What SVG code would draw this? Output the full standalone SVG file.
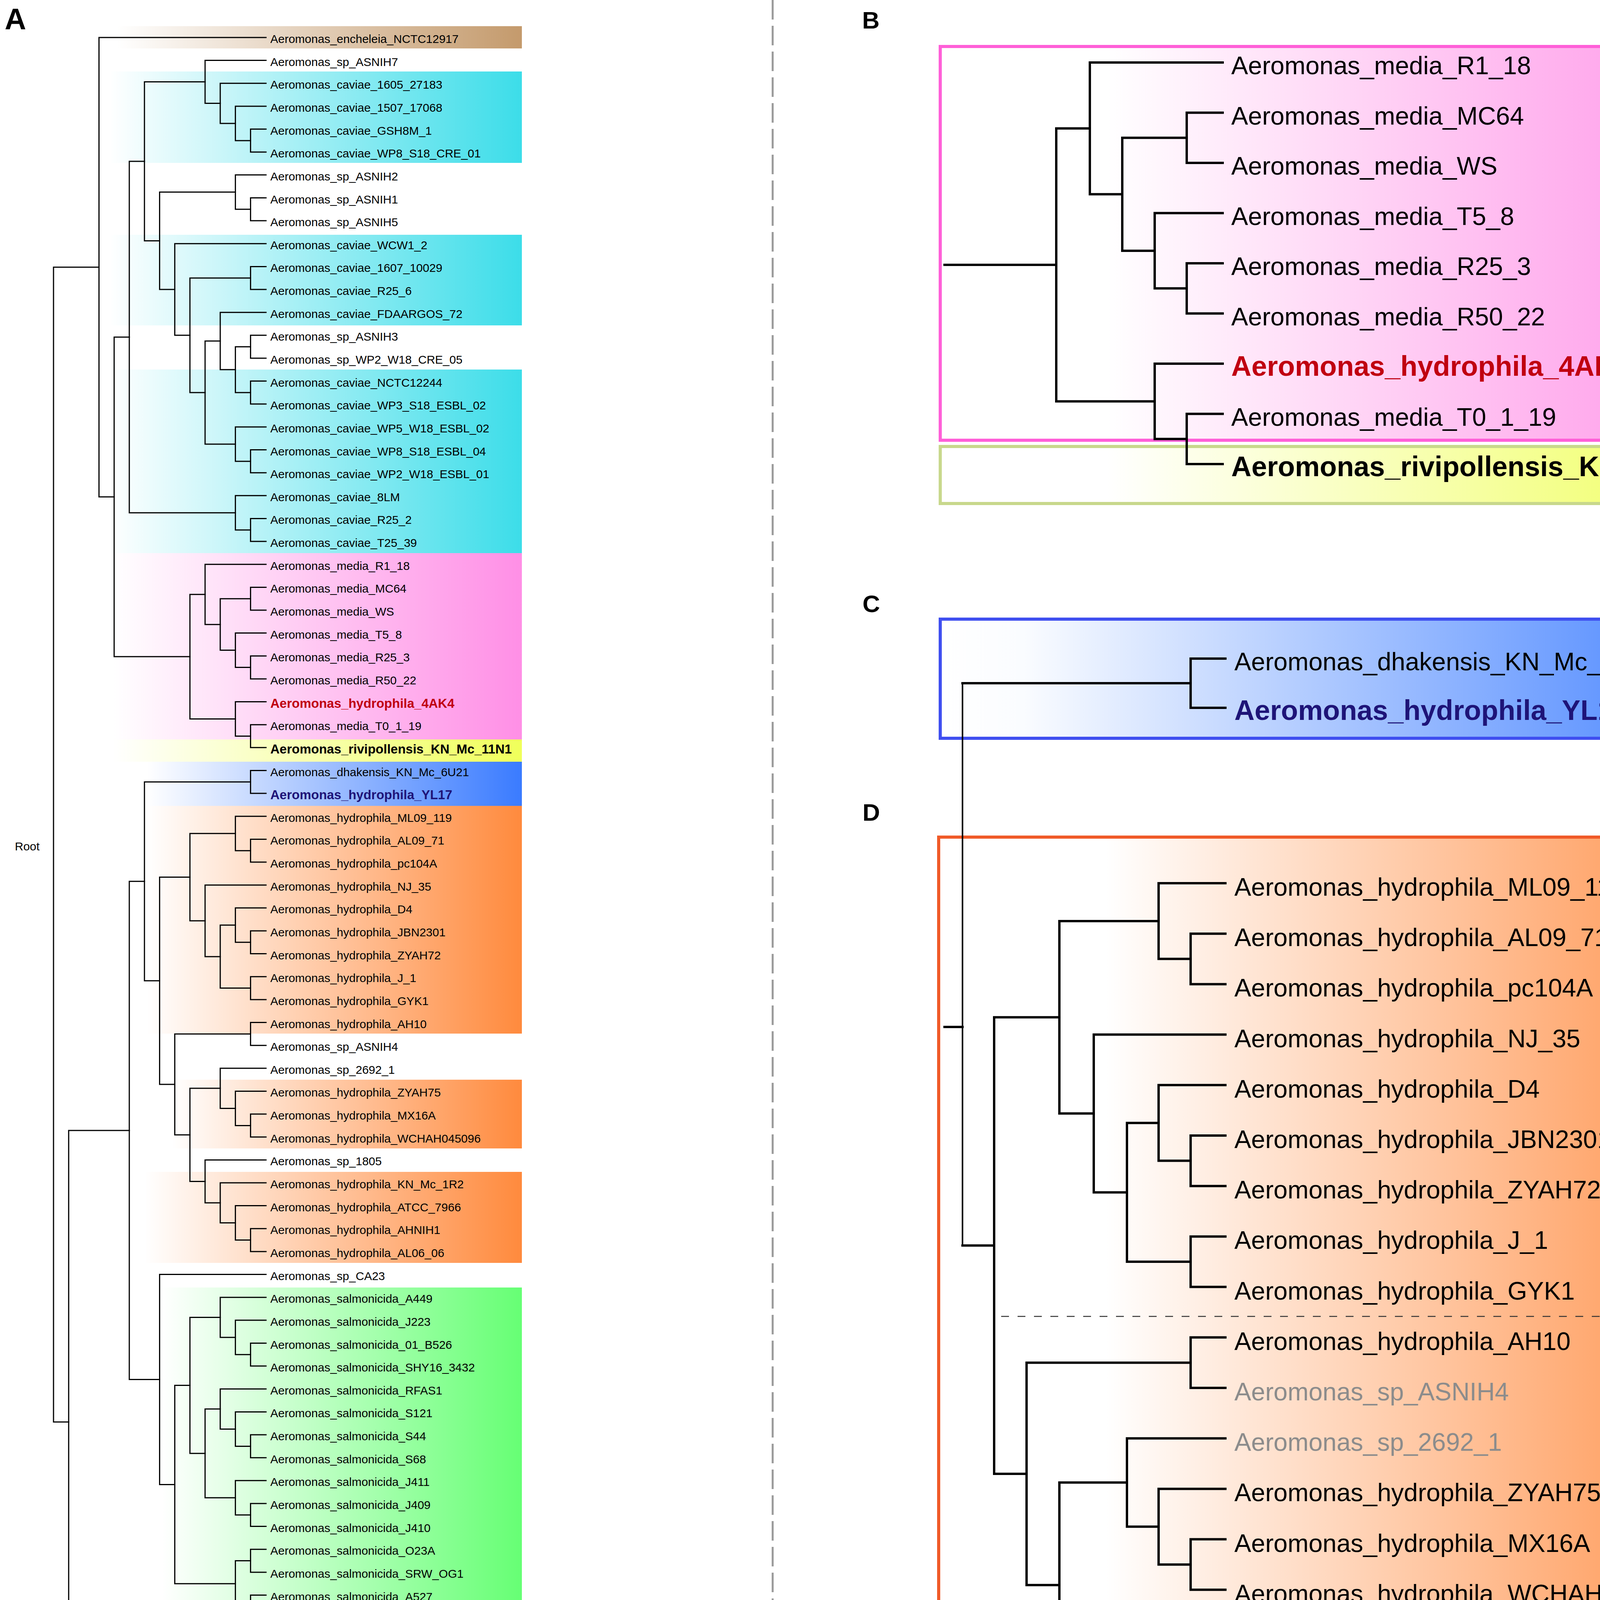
<svg xmlns="http://www.w3.org/2000/svg" width="4550" height="5767" viewBox="0 0 4550 5767">
<defs>
<style>
.a{font-family:"Liberation Sans",Arial,sans-serif;font-size:30px;fill:#000}
.ab{font-family:"Liberation Sans",Arial,sans-serif;font-size:33px;font-weight:bold}
.b{font-family:"Liberation Sans",Arial,sans-serif;font-size:64.5px;fill:#000}
.bb{font-family:"Liberation Sans",Arial,sans-serif;font-size:71.5px;font-weight:bold}
.lg{font-family:"Open Sans","DejaVu Sans",sans-serif;font-size:58px;fill:#111}
.gr{font-family:"Open Sans","DejaVu Sans",sans-serif;font-size:42px;fill:#111}
.pl{font-family:"Liberation Sans",Arial,sans-serif;font-weight:bold;fill:#000}
.grey{fill:#8c8c8c}
.ta{fill:none;stroke:#000;stroke-width:3;stroke-linecap:square;stroke-linejoin:miter}
.tb{fill:none;stroke:#000;stroke-width:6;stroke-linecap:square;stroke-linejoin:miter}
</style>
<linearGradient id="gEnc"><stop offset="0" stop-color="#fff"/><stop offset="1" stop-color="#c49a6c"/></linearGradient>
<linearGradient id="gCav"><stop offset="0" stop-color="#fff"/><stop offset="1" stop-color="#3cdde9"/></linearGradient>
<linearGradient id="gMed"><stop offset="0" stop-color="#fff"/><stop offset="1" stop-color="#ff8fe6"/></linearGradient>
<linearGradient id="gRiv"><stop offset="0" stop-color="#fff"/><stop offset="1" stop-color="#f0ff5a"/></linearGradient>
<linearGradient id="gDha"><stop offset="0" stop-color="#fff"/><stop offset="1" stop-color="#3a7bff"/></linearGradient>
<linearGradient id="gHyd"><stop offset="0" stop-color="#fff"/><stop offset="1" stop-color="#ff8a3d"/></linearGradient>
<linearGradient id="gSal"><stop offset="0" stop-color="#fff"/><stop offset="1" stop-color="#66ff74"/></linearGradient>
<linearGradient id="gSch"><stop offset="0" stop-color="#fff"/><stop offset="1" stop-color="#9d5cff"/></linearGradient>
<linearGradient id="gJan"><stop offset="0" stop-color="#fff"/><stop offset="1" stop-color="#a0006e"/></linearGradient>
<linearGradient id="gVer"><stop offset="0" stop-color="#fff"/><stop offset="1" stop-color="#008c2c"/></linearGradient>
<linearGradient id="bMed"><stop offset="0" stop-color="#fff"/><stop offset="0.2" stop-color="#fff"/><stop offset="1" stop-color="#ff8de6"/></linearGradient>
<linearGradient id="bRiv"><stop offset="0" stop-color="#fff"/><stop offset="0.2" stop-color="#fff"/><stop offset="1" stop-color="#efff55"/></linearGradient>
<linearGradient id="bDha"><stop offset="0" stop-color="#fff"/><stop offset="0.1" stop-color="#fafcff"/><stop offset="1" stop-color="#3a7bff"/></linearGradient>
<linearGradient id="bHyd"><stop offset="0" stop-color="#fff"/><stop offset="0.2" stop-color="#fff"/><stop offset="1" stop-color="#ff8a3e"/></linearGradient>
</defs>
<rect x="0" y="0" width="4550" height="5767" fill="#fff"/>

<g id="panelA-bands">
<rect x="300" y="67" width="1036" height="57" fill="url(#gEnc)"/>
<rect x="280" y="183" width="1056" height="234" fill="url(#gCav)"/>
<rect x="280" y="601" width="1056" height="232" fill="url(#gCav)"/>
<rect x="280" y="946" width="1056" height="470" fill="url(#gCav)"/>
<rect x="290" y="1416" width="1046" height="477" fill="url(#gMed)"/>
<rect x="290" y="1893" width="1046" height="57" fill="url(#gRiv)"/>
<rect x="376" y="1950" width="960" height="113" fill="url(#gDha)"/>
<rect x="376" y="2063" width="960" height="583" fill="url(#gHyd)"/>
<rect x="440" y="2764" width="896" height="176" fill="url(#gHyd)"/>
<rect x="370" y="3000" width="966" height="233" fill="url(#gHyd)"/>
<rect x="415" y="3296" width="921" height="882" fill="url(#gSal)"/>
<rect x="368" y="4178" width="968" height="110" fill="url(#gSch)"/>
<rect x="368" y="4288" width="968" height="70" fill="url(#gVer)"/>
<rect x="368" y="4358" width="968" height="106" fill="url(#gJan)"/>
<rect x="368" y="4530" width="968" height="1170" fill="url(#gVer)"/>
</g>

<g id="panel-boxes">
<rect x="2407" y="119" width="2136" height="1008" fill="url(#bMed)" stroke="#ff5fd8" stroke-width="8"/>
<rect x="2407" y="1143" width="2136" height="146" fill="url(#bRiv)" stroke="#c8d88c" stroke-width="8"/>
<rect x="2407" y="1585" width="2136" height="305" fill="url(#bDha)" stroke="#3f4ff0" stroke-width="8"/>
<rect x="2403" y="2143" width="2140" height="2673" fill="url(#bHyd)" stroke="#f05a28" stroke-width="8"/>
</g>

<g id="separator">
<line x1="1978" y1="0" x2="1978" y2="5767" stroke="#999" stroke-width="5" stroke-dasharray="50 16"/>
<line x1="2563" y1="3370" x2="4545" y2="3370" stroke="#333" stroke-width="2.5" stroke-dasharray="20 22"/>
</g>

<g id="connectors">
<g id="connectors-A" class="ta">
<path d="M253.4 684H137V3640.3H175.8"/>
<path d="M681 96H253.4V1272H292.2"/>
<path d="M331 862.9H292.2V1681.1H486.2"/>
<path d="M369.8 413H331V1312.8H602.6"/>
<path d="M525 209.6H369.8V616.4H408.6"/>
<path d="M681 154.6H525V264.6H563.8"/>
<path d="M681 213.3H563.8V315.9H602.6"/>
<path d="M681 271.9H602.6V359.9H641.4"/>
<path d="M681 330.6H641.4V389.2H681"/>
<path d="M602.6 491.8H408.6V741H447.4"/>
<path d="M681 447.8H602.6V535.8H641.4"/>
<path d="M681 506.5H641.4V565.1H681"/>
<path d="M681 623.8H447.4V858.3H486.2"/>
<path d="M641.4 711.7H486.2V1005H525"/>
<path d="M681 682.4H641.4V741H681"/>
<path d="M563.8 873H525V1136.9H602.6"/>
<path d="M681 799.7H563.8V946.3H602.6"/>
<path d="M641.4 887.7H602.6V1004.9H641.4"/>
<path d="M681 858.3H641.4V917H681"/>
<path d="M681 975.6H641.4V1034.2H681"/>
<path d="M681 1092.9H602.6V1180.9H641.4"/>
<path d="M681 1151.5H641.4V1210.2H681"/>
<path d="M681 1268.8H602.6V1356.8H641.4"/>
<path d="M681 1327.4H641.4V1386.1H681"/>
<path d="M525 1521.7H486.2V1840.6H602.6"/>
<path d="M681 1444.7H525V1598.7H563.8"/>
<path d="M641.4 1532.7H563.8V1664.6H602.6"/>
<path d="M681 1503.4H641.4V1562H681"/>
<path d="M681 1620.6H602.6V1708.6H641.4"/>
<path d="M681 1679.3H641.4V1737.9H681"/>
<path d="M681 1796.6H602.6V1884.5H641.4"/>
<path d="M681 1855.2H641.4V1913.8H681"/>
<path d="M331 2893.9H175.8V4386.7H214.6"/>
<path d="M369.8 2256.3H331V3531.5H408.6"/>
<path d="M641.4 2001.8H369.8V2510.8H408.6"/>
<path d="M681 1972.5H641.4V2031.1H681"/>
<path d="M486.2 2245.5H408.6V2776H447.4"/>
<path d="M602.6 2133.8H486.2V2357.3H525"/>
<path d="M681 2089.8H602.6V2177.7H641.4"/>
<path d="M681 2148.4H641.4V2207H681"/>
<path d="M681 2265.7H525V2448.9H563.8"/>
<path d="M602.6 2368.3H563.8V2529.6H641.4"/>
<path d="M681 2324.3H602.6V2412.3H641.4"/>
<path d="M681 2383H641.4V2441.6H681"/>
<path d="M681 2500.2H641.4V2558.9H681"/>
<path d="M641.4 2646.9H447.4V2905.2H486.2"/>
<path d="M681 2617.5H641.4V2676.2H681"/>
<path d="M563.8 2786.1H486.2V3024.4H525"/>
<path d="M681 2734.8H563.8V2837.4H602.6"/>
<path d="M681 2793.4H602.6V2881.4H641.4"/>
<path d="M681 2852.1H641.4V2910.7H681"/>
<path d="M681 2969.4H525V3079.3H563.8"/>
<path d="M681 3028H563.8V3130.6H602.6"/>
<path d="M681 3086.6H602.6V3174.6H641.4"/>
<path d="M681 3145.3H641.4V3203.9H681"/>
<path d="M681 3262.6H408.6V3800.4H447.4"/>
<path d="M486.2 3546.6H447.4V4054.2H602.6"/>
<path d="M563.8 3372.5H486.2V3720.7H525"/>
<path d="M681 3321.2H563.8V3423.8H602.6"/>
<path d="M681 3379.8H602.6V3467.8H641.4"/>
<path d="M681 3438.5H641.4V3497.1H681"/>
<path d="M563.8 3607.1H525V3834.3H602.6"/>
<path d="M681 3555.8H563.8V3658.4H602.6"/>
<path d="M681 3614.4H602.6V3702.4H641.4"/>
<path d="M681 3673H641.4V3731.7H681"/>
<path d="M681 3790.3H602.6V3878.3H641.4"/>
<path d="M681 3849H641.4V3907.6H681"/>
<path d="M641.4 3995.6H602.6V4112.9H641.4"/>
<path d="M681 3966.2H641.4V4024.9H681"/>
<path d="M681 4083.5H641.4V4142.2H681"/>
<path d="M641.4 4230.1H214.6V4543.4H253.4"/>
<path d="M681 4200.8H641.4V4259.4H681"/>
<path d="M602.6 4362.1H253.4V4724.6H292.2"/>
<path d="M681 4318.1H602.6V4406.1H641.4"/>
<path d="M681 4376.7H641.4V4435.4H681"/>
<path d="M563.8 4545.3H292.2V4903.9H331"/>
<path d="M681 4494H563.8V4596.6H602.6"/>
<path d="M681 4552.6H602.6V4640.6H641.4"/>
<path d="M681 4611.3H641.4V4669.9H681"/>
<path d="M681 4728.6H331V5079.3H369.8"/>
<path d="M681 4787.2H369.8V5371.3H408.6"/>
<path d="M447.4 5200.4H408.6V5542.2H563.8"/>
<path d="M486.2 5041.9H447.4V5359H602.6"/>
<path d="M525 4900.8H486.2V5183H602.6"/>
<path d="M681 4845.8H525V4955.8H563.8"/>
<path d="M681 4904.5H563.8V5007.1H602.6"/>
<path d="M681 4963.1H602.6V5051.1H641.4"/>
<path d="M681 5021.8H641.4V5080.4H681"/>
<path d="M681 5139H602.6V5227H641.4"/>
<path d="M681 5197.7H641.4V5256.3H681"/>
<path d="M681 5315H602.6V5402.9H641.4"/>
<path d="M681 5373.6H641.4V5432.2H681"/>
<path d="M681 5490.9H563.8V5593.5H602.6"/>
<path d="M681 5549.5H602.6V5637.5H641.4"/>
<path d="M681 5608.2H641.4V5666.8H681"/>
</g>
<g id="connectors-B" class="tb">
<path d="M2418 678H2704"/>
<path d="M2790 328.7H2704V1027.4H2956"/>
<path d="M3130 160H2790V497.3H2873"/>
<path d="M3038 352.8H2873V641.9H2956"/>
<path d="M3130 288.5H3038V417H3130"/>
<path d="M3130 545.5H2956V738.3H3038"/>
<path d="M3130 674H3038V802.5H3130"/>
<path d="M3130 931H2956V1123.8H3038"/>
<path d="M3130 1059.5H3038V1188H3130"/>
</g>
<g id="connectors-CD" class="tb">
<path d="M3137 1686H3048V1812H3137"/>
<path d="M3048 1749H2464"/>
<path d="M2464 1749V3188.6" stroke-width="4"/>
<path d="M2464 3188.6H2545"/>
<path d="M2418 2629H2464"/>
<path d="M2712 2604.2H2545V3773.1H2628"/>
<path d="M2966 2357.9H2712V2850.5H2800"/>
<path d="M3137 2261H2966V2454.8H3048"/>
<path d="M3137 2390.2H3048V2519.4H3137"/>
<path d="M3137 2648.6H2800V3052.4H2885"/>
<path d="M2966 2874.7H2885V3230H3048"/>
<path d="M3137 2777.8H2966V2971.6H3048"/>
<path d="M3137 2907H3048V3036.2H3137"/>
<path d="M3137 3165.4H3048V3294.6H3137"/>
<path d="M3048 3488.4H2628V4057.7H2712"/>
<path d="M3137 3423.8H3048V3553H3137"/>
<path d="M2885 3795.3H2712V4320.1H2800"/>
<path d="M3137 3682.2H2885V3908.3H2966"/>
<path d="M3137 3811.4H2966V4005.2H3048"/>
<path d="M3137 3940.6H3048V4069.8H3137"/>
<path d="M3137 4199H2800V4441.3H2885"/>
<path d="M3137 4328.2H2885V4554.3H2966"/>
<path d="M3137 4457.4H2966V4651.2H3048"/>
<path d="M3137 4586.6H3048V4715.8H3137"/>
</g>
</g>

<g id="panel-labels">
<text class="pl" x="12" y="75" font-size="76">A</text>
<text class="pl" x="2207" y="73" font-size="62">B</text>
<text class="pl" x="2208" y="1567" font-size="62">C</text>
<text class="pl" x="2208" y="2101" font-size="62">D</text>
<text class="a" x="38" y="2177">Root</text>
</g>

<g id="leaves-A">
<g id="A01"><text class="a" x="692" y="110">Aeromonas_encheleia_NCTC12917</text></g>
<g id="A02"><text class="a" x="692" y="168.6">Aeromonas_sp_ASNIH7</text></g>
<g id="A03"><text class="a" x="692" y="227.3">Aeromonas_caviae_1605_27183</text></g>
<g id="A04"><text class="a" x="692" y="285.9">Aeromonas_caviae_1507_17068</text></g>
<g id="A05"><text class="a" x="692" y="344.6">Aeromonas_caviae_GSH8M_1</text></g>
<g id="A06"><text class="a" x="692" y="403.2">Aeromonas_caviae_WP8_S18_CRE_01</text></g>
<g id="A07"><text class="a" x="692" y="461.8">Aeromonas_sp_ASNIH2</text></g>
<g id="A08"><text class="a" x="692" y="520.5">Aeromonas_sp_ASNIH1</text></g>
<g id="A09"><text class="a" x="692" y="579.1">Aeromonas_sp_ASNIH5</text></g>
<g id="A10"><text class="a" x="692" y="637.8">Aeromonas_caviae_WCW1_2</text></g>
<g id="A11"><text class="a" x="692" y="696.4">Aeromonas_caviae_1607_10029</text></g>
<g id="A12"><text class="a" x="692" y="755">Aeromonas_caviae_R25_6</text></g>
<g id="A13"><text class="a" x="692" y="813.7">Aeromonas_caviae_FDAARGOS_72</text></g>
<g id="A14"><text class="a" x="692" y="872.3">Aeromonas_sp_ASNIH3</text></g>
<g id="A15"><text class="a" x="692" y="931">Aeromonas_sp_WP2_W18_CRE_05</text></g>
<g id="A16"><text class="a" x="692" y="989.6">Aeromonas_caviae_NCTC12244</text></g>
<g id="A17"><text class="a" x="692" y="1048.2">Aeromonas_caviae_WP3_S18_ESBL_02</text></g>
<g id="A18"><text class="a" x="692" y="1106.9">Aeromonas_caviae_WP5_W18_ESBL_02</text></g>
<g id="A19"><text class="a" x="692" y="1165.5">Aeromonas_caviae_WP8_S18_ESBL_04</text></g>
<g id="A20"><text class="a" x="692" y="1224.2">Aeromonas_caviae_WP2_W18_ESBL_01</text></g>
<g id="A21"><text class="a" x="692" y="1282.8">Aeromonas_caviae_8LM</text></g>
<g id="A22"><text class="a" x="692" y="1341.4">Aeromonas_caviae_R25_2</text></g>
<g id="A23"><text class="a" x="692" y="1400.1">Aeromonas_caviae_T25_39</text></g>
<g id="A24"><text class="a" x="692" y="1458.7">Aeromonas_media_R1_18</text></g>
<g id="A25"><text class="a" x="692" y="1517.4">Aeromonas_media_MC64</text></g>
<g id="A26"><text class="a" x="692" y="1576">Aeromonas_media_WS</text></g>
<g id="A27"><text class="a" x="692" y="1634.6">Aeromonas_media_T5_8</text></g>
<g id="A28"><text class="a" x="692" y="1693.3">Aeromonas_media_R25_3</text></g>
<g id="A29"><text class="a" x="692" y="1751.9">Aeromonas_media_R50_22</text></g>
<g id="A30"><text class="ab" x="692" y="1811.6" fill="#c00010">Aeromonas_hydrophila_4AK4</text></g>
<g id="A31"><text class="a" x="692" y="1869.2">Aeromonas_media_T0_1_19</text></g>
<g id="A32"><text class="ab" x="692" y="1928.8" fill="#000">Aeromonas_rivipollensis_KN_Mc_11N1</text></g>
<g id="A33"><text class="a" x="692" y="1986.5">Aeromonas_dhakensis_KN_Mc_6U21</text></g>
<g id="A34"><text class="ab" x="692" y="2046.1" fill="#1e1478">Aeromonas_hydrophila_YL17</text></g>
<g id="A35"><text class="a" x="692" y="2103.8">Aeromonas_hydrophila_ML09_119</text></g>
<g id="A36"><text class="a" x="692" y="2162.4">Aeromonas_hydrophila_AL09_71</text></g>
<g id="A37"><text class="a" x="692" y="2221">Aeromonas_hydrophila_pc104A</text></g>
<g id="A38"><text class="a" x="692" y="2279.7">Aeromonas_hydrophila_NJ_35</text></g>
<g id="A39"><text class="a" x="692" y="2338.3">Aeromonas_hydrophila_D4</text></g>
<g id="A40"><text class="a" x="692" y="2397">Aeromonas_hydrophila_JBN2301</text></g>
<g id="A41"><text class="a" x="692" y="2455.6">Aeromonas_hydrophila_ZYAH72</text></g>
<g id="A42"><text class="a" x="692" y="2514.2">Aeromonas_hydrophila_J_1</text></g>
<g id="A43"><text class="a" x="692" y="2572.9">Aeromonas_hydrophila_GYK1</text></g>
<g id="A44"><text class="a" x="692" y="2631.5">Aeromonas_hydrophila_AH10</text></g>
<g id="A45"><text class="a" x="692" y="2690.2">Aeromonas_sp_ASNIH4</text></g>
<g id="A46"><text class="a" x="692" y="2748.8">Aeromonas_sp_2692_1</text></g>
<g id="A47"><text class="a" x="692" y="2807.4">Aeromonas_hydrophila_ZYAH75</text></g>
<g id="A48"><text class="a" x="692" y="2866.1">Aeromonas_hydrophila_MX16A</text></g>
<g id="A49"><text class="a" x="692" y="2924.7">Aeromonas_hydrophila_WCHAH045096</text></g>
<g id="A50"><text class="a" x="692" y="2983.4">Aeromonas_sp_1805</text></g>
<g id="A51"><text class="a" x="692" y="3042">Aeromonas_hydrophila_KN_Mc_1R2</text></g>
<g id="A52"><text class="a" x="692" y="3100.6">Aeromonas_hydrophila_ATCC_7966</text></g>
<g id="A53"><text class="a" x="692" y="3159.3">Aeromonas_hydrophila_AHNIH1</text></g>
<g id="A54"><text class="a" x="692" y="3217.9">Aeromonas_hydrophila_AL06_06</text></g>
<g id="A55"><text class="a" x="692" y="3276.6">Aeromonas_sp_CA23</text></g>
<g id="A56"><text class="a" x="692" y="3335.2">Aeromonas_salmonicida_A449</text></g>
<g id="A57"><text class="a" x="692" y="3393.8">Aeromonas_salmonicida_J223</text></g>
<g id="A58"><text class="a" x="692" y="3452.5">Aeromonas_salmonicida_01_B526</text></g>
<g id="A59"><text class="a" x="692" y="3511.1">Aeromonas_salmonicida_SHY16_3432</text></g>
<g id="A60"><text class="a" x="692" y="3569.8">Aeromonas_salmonicida_RFAS1</text></g>
<g id="A61"><text class="a" x="692" y="3628.4">Aeromonas_salmonicida_S121</text></g>
<g id="A62"><text class="a" x="692" y="3687">Aeromonas_salmonicida_S44</text></g>
<g id="A63"><text class="a" x="692" y="3745.7">Aeromonas_salmonicida_S68</text></g>
<g id="A64"><text class="a" x="692" y="3804.3">Aeromonas_salmonicida_J411</text></g>
<g id="A65"><text class="a" x="692" y="3863">Aeromonas_salmonicida_J409</text></g>
<g id="A66"><text class="a" x="692" y="3921.6">Aeromonas_salmonicida_J410</text></g>
<g id="A67"><text class="a" x="692" y="3980.2">Aeromonas_salmonicida_O23A</text></g>
<g id="A68"><text class="a" x="692" y="4038.9">Aeromonas_salmonicida_SRW_OG1</text></g>
<g id="A69"><text class="a" x="692" y="4097.5">Aeromonas_salmonicida_A527</text></g>
<g id="A70"><text class="a" x="692" y="4156.2">Aeromonas_salmonicida_34mel</text></g>
<g id="A71"><text class="a" x="692" y="4214.8">Aeromonas_schubertii_LF1708</text></g>
<g id="A72"><text class="a" x="692" y="4273.4">Aeromonas_schubertii_WL1483</text></g>
<g id="A73"><text class="a" x="692" y="4332.1">Aeromonas_veronii_WP2_S18_CRE_03</text></g>
<g id="A74"><text class="a" x="692" y="4390.7">Aeromonas_jandaei_3299</text></g>
<g id="A75"><text class="a" x="692" y="4449.4">Aeromonas_jandaei_3348</text></g>
<g id="A76"><text class="a" x="692" y="4508">Aeromonas_sp_CU5</text></g>
<g id="A77"><text class="a" x="692" y="4566.6">Aeromonas_veronii_WP8_S18_ESBL_11</text></g>
<g id="A78"><text class="a" x="692" y="4625.3">Aeromonas_veronii_WP3_W19_ESBL_03</text></g>
<g id="A79"><text class="a" x="692" y="4683.9">Aeromonas_veronii_WP9_W18_ESBL_04</text></g>
<g id="A80"><text class="a" x="692" y="4742.6">Aeromonas_veronii_CB51</text></g>
<g id="A81"><text class="a" x="692" y="4801.2">Aeromonas_veronii_FC951</text></g>
<g id="A82"><text class="a" x="692" y="4859.8">Aeromonas_veronii_JC529</text></g>
<g id="A83"><text class="a" x="692" y="4918.5">Aeromonas_veronii_TH0426</text></g>
<g id="A84"><text class="a" x="692" y="4977.1">Aeromonas_veronii_X12</text></g>
<g id="A85"><text class="a" x="692" y="5035.8">Aeromonas_veronii_Hm21</text></g>
<g id="A86"><text class="a" x="692" y="5094.4">Aeromonas_veronii_17ISAe</text></g>
<g id="A87"><text class="a" x="692" y="5153">Aeromonas_veronii_A8_AHP</text></g>
<g id="A88"><text class="a" x="692" y="5211.7">Aeromonas_veronii_AVNIH1</text></g>
<g id="A89"><text class="a" x="692" y="5270.3">Aeromonas_veronii_ZfB1</text></g>
<g id="A90"><text class="a" x="692" y="5329">Aeromonas_veronii_B565</text></g>
<g id="A91"><text class="a" x="692" y="5387.6">Aeromonas_veronii_AVNIH1_2</text></g>
<g id="A92"><text class="a" x="692" y="5446.2">Aeromonas_veronii_WP8_W19_CRE_03</text></g>
<g id="A93"><text class="a" x="692" y="5504.9">Aeromonas_veronii_HX3</text></g>
<g id="A94"><text class="a" x="692" y="5563.5">Aeromonas_veronii_FDAARGOS_632</text></g>
<g id="A95"><text class="a" x="692" y="5622.2">Aeromonas_veronii_MS_18_37</text></g>
<g id="A96"><text class="a" x="692" y="5680.8">Aeromonas_veronii_X11</text></g>
</g>

<g id="legend">
<g id="lg-encheleia"><rect x="1415" y="4320" width="106" height="105" fill="#8b5e3c"/><text class="lg" x="1561" y="4390">encheleia</text></g>
<g id="lg-caviae"><rect x="1416" y="4457" width="104" height="103" fill="#3cdcea"/><text class="lg" x="1561" y="4524">caviae</text></g>
<g id="lg-media"><rect x="1416" y="4590" width="104" height="103" fill="#ff9ee8"/><text class="lg" x="1562" y="4668">media</text></g>
<g id="lg-rivipollensis"><rect x="1422" y="4727" width="101" height="99" fill="#eeff5e"/><text class="lg" x="1567" y="4802">rivipollensis</text></g>
<g id="lg-dhakensis"><rect x="1421" y="4874" width="103" height="102" fill="#3b7ffb"/><text class="lg" x="1567" y="4954">dhakensis</text></g>
<g id="lg-hydrophila"><rect x="1421" y="5014" width="103" height="103" fill="#ff8f45"/><text class="lg" x="1574" y="5090">hydrophila</text></g>
<g id="lg-salmonicida"><rect x="1426" y="5170" width="103" height="101" fill="#6bff76"/><text class="lg" x="1573" y="5245">salmonicida</text></g>
<g id="lg-schubertii"><rect x="1426" y="5302" width="103" height="103" fill="#9e61f7"/><text class="lg" x="1573" y="5376">schubertii</text></g>
<g id="lg-jandaei"><rect x="1426" y="5436" width="103" height="102" fill="#a0006e"/><text class="lg" x="1570" y="5507">jandaei</text></g>
<g id="lg-veronii"><rect x="1426" y="5569" width="103" height="102" fill="#008a2a"/><text class="lg" x="1573" y="5640">veronii</text></g>
</g>

<g id="leaves-B">
<g id="B1"><text class="b" x="3152" y="190">Aeromonas_media_R1_18</text></g>
<g id="B2"><text class="b" x="3152" y="318.5">Aeromonas_media_MC64</text></g>
<g id="B3"><text class="b" x="3152" y="447">Aeromonas_media_WS</text></g>
<g id="B4"><text class="b" x="3152" y="575.5">Aeromonas_media_T5_8</text></g>
<g id="B5"><text class="b" x="3152" y="704">Aeromonas_media_R25_3</text></g>
<g id="B6"><text class="b" x="3152" y="832.5">Aeromonas_media_R50_22</text></g>
<g id="B7"><text class="bb" x="3152" y="962" fill="#c00010">Aeromonas_hydrophila_4AK4</text></g>
<g id="B8"><text class="b" x="3152" y="1089.5">Aeromonas_media_T0_1_19</text></g>
<g id="B9"><text class="bb" x="3152" y="1219" fill="#000">Aeromonas_rivipollensis_KN_Mc_11N1</text></g>
</g>

<g id="leaves-C">
<g id="C1"><text class="b" x="3160" y="1716">Aeromonas_dhakensis_KN_Mc_6U21</text></g>
<g id="C2"><text class="bb" x="3160" y="1843" fill="#1e1478">Aeromonas_hydrophila_YL17</text></g>
</g>

<g id="leaves-D">
<g id="D01"><text class="b" x="3160" y="2293">Aeromonas_hydrophila_ML09_119</text></g>
<g id="D02"><text class="b" x="3160" y="2422.2">Aeromonas_hydrophila_AL09_71</text></g>
<g id="D03"><text class="b" x="3160" y="2551.4">Aeromonas_hydrophila_pc104A</text></g>
<g id="D04"><text class="b" x="3160" y="2680.6">Aeromonas_hydrophila_NJ_35</text></g>
<g id="D05"><text class="b" x="3160" y="2809.8">Aeromonas_hydrophila_D4</text></g>
<g id="D06"><text class="b" x="3160" y="2939">Aeromonas_hydrophila_JBN2301</text></g>
<g id="D07"><text class="b" x="3160" y="3068.2">Aeromonas_hydrophila_ZYAH72</text></g>
<g id="D08"><text class="b" x="3160" y="3197.4">Aeromonas_hydrophila_J_1</text></g>
<g id="D09"><text class="b" x="3160" y="3326.6">Aeromonas_hydrophila_GYK1</text></g>
<g id="D10"><text class="b" x="3160" y="3455.8">Aeromonas_hydrophila_AH10</text></g>
<g id="D11"><text class="b grey" x="3160" y="3585">Aeromonas_sp_ASNIH4</text></g>
<g id="D12"><text class="b grey" x="3160" y="3714.2">Aeromonas_sp_2692_1</text></g>
<g id="D13"><text class="b" x="3160" y="3843.4">Aeromonas_hydrophila_ZYAH75</text></g>
<g id="D14"><text class="b" x="3160" y="3972.6">Aeromonas_hydrophila_MX16A</text></g>
<g id="D15"><text class="b" x="3160" y="4101.8">Aeromonas_hydrophila_WCHAH045096</text></g>
<g id="D16"><text class="b grey" x="3160" y="4231">Aeromonas_sp_1805</text></g>
<g id="D17"><text class="b" x="3160" y="4360.2">Aeromonas_hydrophila_KN_Mc_1R2</text></g>
<g id="D18"><text class="b" x="3160" y="4489.4">Aeromonas_hydrophila_ATCC_7966</text></g>
<g id="D19"><text class="b" x="3160" y="4618.6">Aeromonas_hydrophila_AHNIH1</text></g>
<g id="D20"><text class="b" x="3160" y="4747.8">Aeromonas_hydrophila_AL06_06</text></g>
<g id="group1"><text class="gr" x="4364" y="3323">Group 1</text></g>
<g id="group2"><text class="gr" x="4364" y="3446">Group 2</text></g>
</g>
</svg>
